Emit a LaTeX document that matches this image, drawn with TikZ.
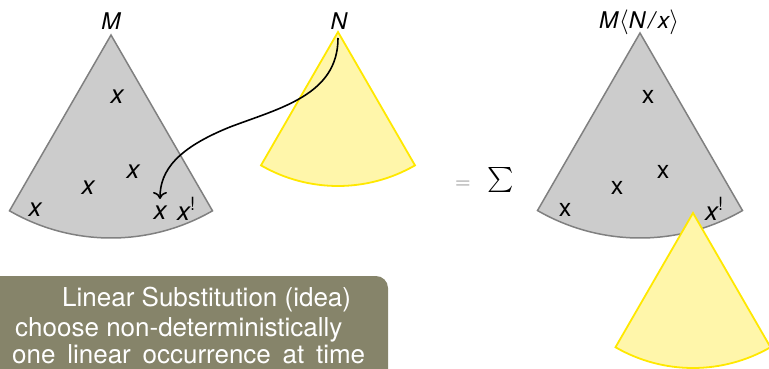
\documentclass[tikz,border=0pt]{standalone}
\usepackage{fontspec}
\setmainfont{TeX Gyre Heros}
\usetikzlibrary{arrows.meta}
\definecolor{sectgray}{RGB}{204,204,204}
\definecolor{sectedge}{RGB}{128,128,128}
\definecolor{yfill}{RGB}{255,246,170}
\definecolor{yedge}{RGB}{255,232,0}
\definecolor{boxcol}{RGB}{134,132,106}
\begin{document}
\begin{tikzpicture}[x=1pt,y=-1pt,
  graysect/.style={fill=sectgray,draw=sectedge,line width=1.5pt},
  yelsect/.style={fill=yfill,draw=yedge,line width=1.8pt},
  var/.style={font=\fontsize{26}{26}\selectfont\itshape,inner sep=0pt},
  uvar/.style={font=\fontsize{25}{25}\selectfont,inner sep=0pt},
  lbl/.style={font=\fontsize{23}{23}\selectfont\itshape,inner sep=0pt},
  boxtext/.style={font=\fontsize{26}{28}\selectfont,text=white,inner sep=0pt,anchor=base west},
  conn/.style={line width=1.6pt,-{To[length=7pt,width=14pt]}}
  ]
\useasboundingbox (0,0) rectangle (769,369);
\clip (0,0) rectangle (769,369);
% left M sector
\draw[graysect] (111,35) -- ++(60:203) arc (60:120:203) -- cycle;
% N sector
\draw[yelsect] (338,32) -- ++(60:154) arc (60:120:154) -- cycle;
% right M sector
\draw[graysect] (640,33) -- ++(60:205) arc (60:120:205) -- cycle;
% substituted N
\draw[yelsect] (693,213) -- ++(60:155) arc (60:120:155) -- cycle;

% labels
\node[lbl] (lM) at (111,21) {M};
\node[lbl] (lN) at (339,21) {N};
\node[lbl,anchor=base] (lMN) at (639,29) {M\kern1pt$\langle$N\kern3pt/\kern3pt x$\rangle$};

% left occurrences
\node[var] (x1) at (117,97) {x};
\node[var] (x2) at (88,188) {x};
\node[var] (x3) at (133,172) {x};
\node[var] (x4) at (35,210) {x};
\node[var] (xlin) at (160,213) {x};
\node[var,anchor=base west] (xbang) at (177,220) {x\textsuperscript{\upshape !}};

% right occurrences
\node[uvar] (y1) at (648,97) {x};
\node[uvar] (y2) at (617,188) {x};
\node[uvar] (y3) at (663,172) {x};
\node[uvar] (y4) at (565,210) {x};
\node[var,anchor=base west] (ybang) at (705,220) {x\textsuperscript{\upshape !}};

% equals sum
\node[inner sep=0pt,text=gray,scale=2] (eq) at (463,185) {$=$};
\node[inner sep=0pt,scale=2.5] (sum) at (501,180) {$\textstyle\sum$};

% arrow
\coordinate (Ntop) at (338,38);
\draw[conn,shorten >=7pt] (Ntop) .. controls (338,95) and (280,108) .. (230,127)
   .. controls (178,148) and (160,170) .. (xlin.north);

% text box
\fill[boxcol] (-20,276) [rounded corners=12pt] -- (388,276) -- (388,400) [sharp corners] -- (-20,400) -- cycle;
\node[boxtext] (t1) at (62,306) {Linear Substitution (idea)};
\node[boxtext] (t2) at (15,336) {choose non-deterministically};
\node[boxtext] (t3) at (12,363) {one\hspace{4.5pt} linear\hspace{4.5pt} occurrence\hspace{4.5pt} at\hspace{4.5pt} time};
\end{tikzpicture}
\end{document}
